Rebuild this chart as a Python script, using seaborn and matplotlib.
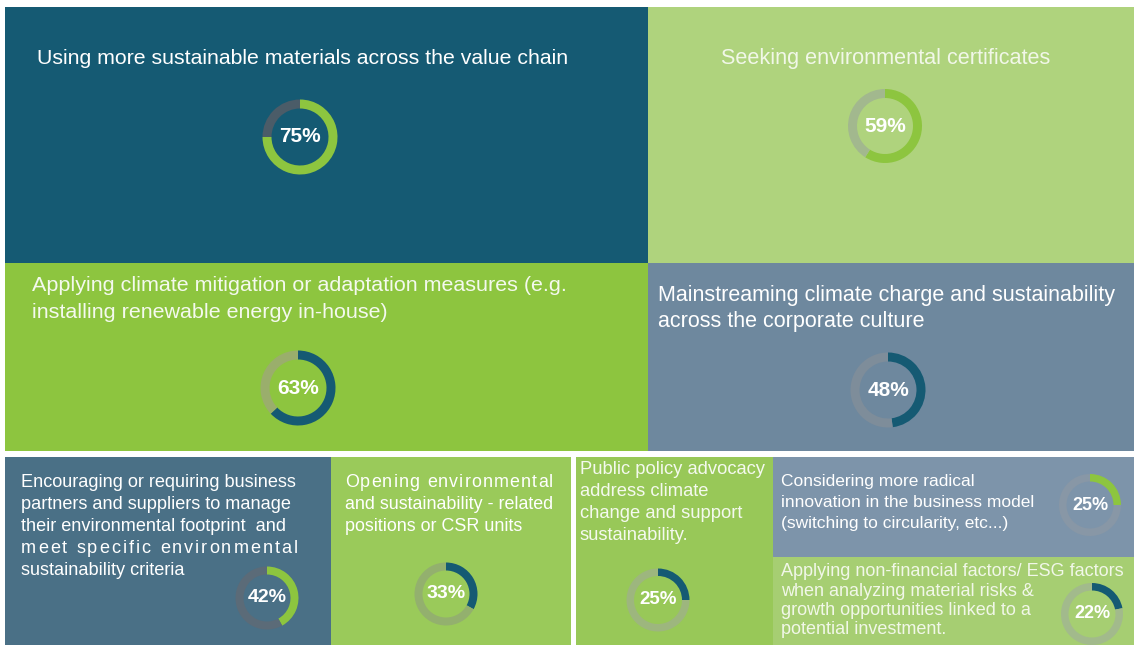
import matplotlib
matplotlib.use("Agg")
import matplotlib.pyplot as plt
from matplotlib.patches import Rectangle
import seaborn as sns

sns.set_theme(style="white")
FONT = ["Liberation Sans", "DejaVu Sans"]
plt.rcParams["font.family"] = FONT

W, H = 1134, 645

# Share of companies (%) taking each sustainability measure
measures = [
    "Using more sustainable materials across the value chain",
    "Seeking environmental certificates",
    "Applying climate mitigation or adaptation measures (e.g.\n"
    "installing renewable energy in-house)",
    "Mainstreaming climate charge and sustainability\n"
    "across the corporate culture",
    "Encouraging or requiring business\n"
    "partners and suppliers to manage\n"
    "their environmental footprint  and\n"
    "meet specific environmental\n"
    "sustainability criteria",
    "Opening environmental\n"
    "and sustainability - related\n"
    "positions or CSR units",
    "Public policy advocacy\n"
    "address climate\n"
    "change and support\n"
    "sustainability.",
    "Considering more radical\n"
    "innovation in the business model\n"
    "(switching to circularity, etc...)",
    "Applying non-financial factors/ ESG factors\n"
    "when analyzing material risks &\n"
    "growth opportunities linked to a\n"
    "potential investment.",
]
shares = [75, 59, 63, 48, 42, 33, 25, 25, 22]

# Palette
NAVY = "#155a73"
LIME = "#8dc53f"

# Tile layout in pixel space (left, top, right, bottom), fill, text colour
tiles = [
    ((5, 7, 648, 263), "#155a73", "#ffffff"),
    ((648, 7, 1134, 263), "#afd37d", "#f1f7e8"),
    ((5, 263, 648, 451), "#8dc53f", "#f4f9ee"),
    ((648, 263, 1134, 451), "#6e889e", "#ffffff"),
    ((5, 457, 331, 645), "#4a7086", "#ffffff"),
    ((331, 457, 571, 645), "#9aca5a", "#ffffff"),
    ((576, 457, 773, 645), "#98c858", "#f4f9ee"),
    ((773, 457, 1134, 557), "#7d94aa", "#ffffff"),
    ((773, 557, 1134, 645), "#a6ce72", "#f1f7e8"),
]

# Text placement: x anchor, first baseline, line step, alignment,
# index of the line used to size the block, its pixel width and a size boost,
# and lines that are letter-spaced to a given width.
text_layout = [
    dict(x=37, y=64, step=27, ha="left", fit=(0, 530, 1.01), track={}),
    dict(x=886, y=64, step=27, ha="center", fit=(0, 328, 1.01), track={}),
    dict(x=32, y=291, step=27, ha="left", fit=(0, 531, 1.01), track={}),
    dict(x=658, y=301, step=26.5, ha="left", fit=(0, 456, 1.01), track={}),
    dict(x=21, y=487, step=22, ha="left", fit=(0, 277, 1.0), track={3: 277}),
    dict(x=345, y=487, step=22, ha="left", fit=(1, 208, 1.0), track={0: 208}),
    dict(x=580, y=474, step=22, ha="left", fit=(0, 186, 1.0), track={}),
    dict(x=781, y=486, step=21, ha="left", fit=(1, 252, 1.0), track={}),
    dict(x=781, y=576, step=19.5, ha="left", fit=(0, 344, 1.0), track={}),
]

# Donut placement: centre, outer radius, ring width, arc colour,
# remainder (track) colour, label size
donut_layout = [
    dict(c=(300, 137), r=37.5, w=9, color=LIME, track="#4b5c68", fs=15),
    dict(c=(885, 126), r=37, w=9, color=LIME, track="#a2b88e", fs=15),
    dict(c=(298, 388), r=37.5, w=9, color=NAVY, track="#9aae6c", fs=15),
    dict(c=(888, 390), r=37.5, w=9, color=NAVY, track="#7e8d9a", fs=15),
    dict(c=(267, 598), r=31.5, w=8, color=LIME, track="#5b6b78", fs=14),
    dict(c=(446, 594), r=31.5, w=8, color=NAVY, track="#93b06e", fs=14),
    dict(c=(658, 600), r=31.5, w=7.5, color=NAVY, track="#9db67e", fs=13.5),
    dict(c=(1090, 505), r=31, w=7.5, color=LIME, track="#8897a6", fs=13),
    dict(c=(1092, 614), r=31, w=7.5, color=NAVY, track="#a2ba8c", fs=13),
]

fig = plt.figure(figsize=(W / 100, H / 100), dpi=100)
fig.patch.set_facecolor("white")
ax = fig.add_axes([0, 0, 1, 1])
ax.set_axis_off()
renderer = fig.canvas.get_renderer()


def text_width(s, size, weight="normal"):
    t = ax.text(0, 0, s, fontsize=size, fontweight=weight)
    w = t.get_window_extent(renderer).width
    t.remove()
    return w


def draw_tracked(x0, yb, s, size, target, color):
    sentinel = "x"
    ws = text_width(sentinel, size)
    starts = [text_width(s[:i] + sentinel, size) - ws for i in range(len(s))]
    natural = text_width(s, size)
    extra = (target - natural) / max(len(s) - 1, 1)
    for i, ch in enumerate(s):
        if ch.strip():
            ax.text(x0 + starts[i] + i * extra, H - yb, ch, fontsize=size,
                    color=color, ha="left", va="baseline")


# Tiles
for (x0, y0, x1, y1), fill, _ in tiles:
    ax.add_patch(Rectangle((x0, H - y1), x1 - x0, y1 - y0,
                           facecolor=fill, edgecolor="none", linewidth=0))

# Captions
for label, lay, (_, _, tcol) in zip(measures, text_layout, tiles):
    lines = label.split("\n")
    idx, target, boost = lay["fit"]
    size = boost * 10 * target / text_width(lines[idx], 10)
    for i, line in enumerate(lines):
        yb = lay["y"] + i * lay["step"]
        if i in lay["track"]:
            draw_tracked(lay["x"], yb, line, size, lay["track"][i], tcol)
        else:
            ax.text(lay["x"], H - yb, line, fontsize=size, color=tcol,
                    ha=lay["ha"], va="baseline")

# Donuts
for value, d in zip(shares, donut_layout):
    cx, cy = d["c"]
    ax.pie([value, 100 - value], colors=[d["color"], d["track"]],
           startangle=90, counterclock=False, radius=d["r"],
           center=(cx, H - cy),
           wedgeprops=dict(width=d["w"], linewidth=0, edgecolor="none"))
    ax.text(cx, H - cy, f"{value}%", fontsize=d["fs"], fontweight="bold",
            color="white", ha="center", va="center")

ax.set_aspect("auto")
ax.set_xlim(0, W)
ax.set_ylim(0, H)
ax.set_axis_off()

fig.savefig("out.png", dpi=100, facecolor="white")
